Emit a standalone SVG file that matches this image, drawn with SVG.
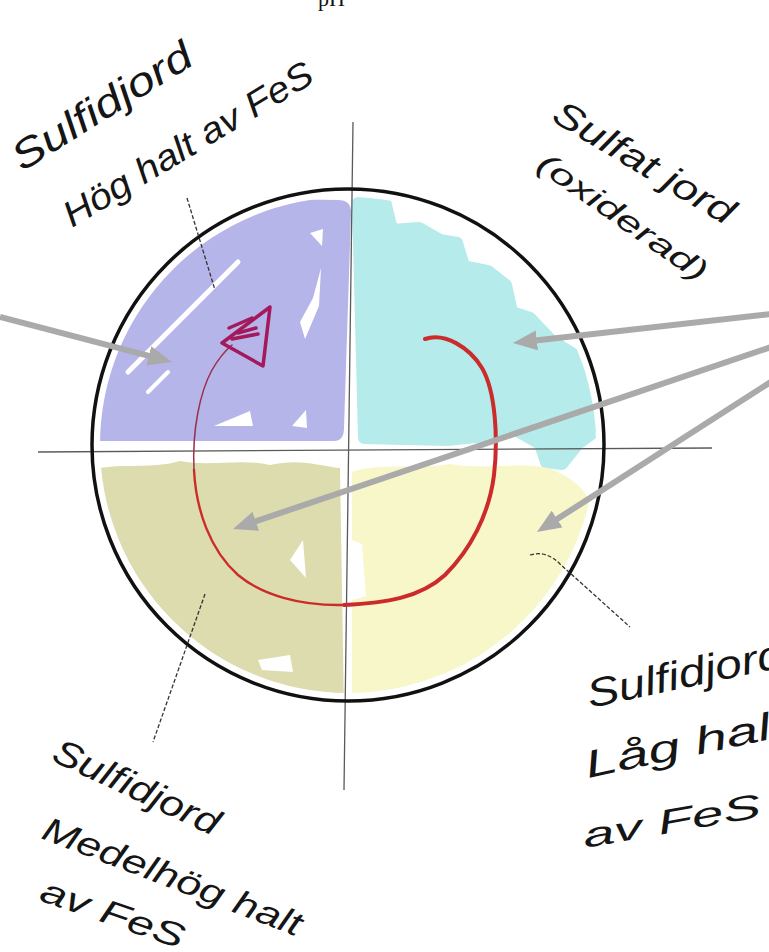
<svg xmlns="http://www.w3.org/2000/svg" width="769" height="952" viewBox="0 0 769 952">
<style>
.hand{font-family:"Liberation Sans","DejaVu Sans",sans-serif;font-style:italic;fill:#151515;}
.axis{stroke:#5a5a5a;stroke-width:1.3;fill:none;}
.leader{stroke:#333;stroke-width:1.3;fill:none;stroke-dasharray:4 2;}
.arrow{stroke:#aaaaaa;stroke-width:6;fill:none;marker-end:url(#ah);}
.gap{fill:#ffffff;stroke:none;}
</style>
<defs>
<marker id="ah" viewBox="0 0 24 20" markerWidth="24" markerHeight="20" refX="6" refY="10" orient="auto" markerUnits="userSpaceOnUse">
<path d="M0,0 L24,10 L0,20 Z" fill="#aaaaaa"/>
</marker>
<clipPath id="inner"><circle cx="348" cy="445" r="248"/></clipPath>
</defs>
<rect width="769" height="952" fill="#ffffff"/>
<text x="318" y="6" font-family="Liberation Serif,serif" font-size="22" fill="#111">pH</text>

<g id="fills" clip-path="url(#inner)">
<g id="q-purple">
<path d="M90,441 L334,441 Q344,441 344,428 L351,214 Q352,200 338,200 L90,196 Z" fill="#b6b5ea"/>
<path d="M128,372 L238,262" stroke="#fff" stroke-width="5" stroke-linecap="round"/>
<path d="M148,392 L168,372" stroke="#fff" stroke-width="4" stroke-linecap="round"/>
<polygon class="gap" points="321,268 313,298 300,322 305,339 319,306"/>
<polygon class="gap" points="310,233 323,229 322,246"/>
<polygon class="gap" points="214,426 250,411 253,426"/>
<polygon class="gap" points="292,426 306,410 307,428"/>
</g>
<g id="q-cyan">
<path d="M358,203 L385,201 L392,230 L419,228 L440,240 L457,243 L464,266 L488,271 L506,285 L512,312 L530,318 L551,340 L575,355 L595,376 L606,400 L600,428 L578,444 L562,464 L546,462 L540,444 L516,430 L495,435 L447,440 L364,438 Z" fill="#b5ebea" stroke="#b5ebea" stroke-width="12" stroke-linejoin="round"/>
</g>
<g id="q-olive">
<path d="M90,470 C120,462 150,470 180,461 C210,467 240,458 270,465 C300,458 320,466 340,468 L344,710 L90,710 Z" fill="#dcdcae"/>
<polygon class="gap" points="290,560 303,540 306,578"/>
<polygon class="gap" points="258,660 290,655 293,672 262,670"/>
</g>
<g id="q-yellow">
<path d="M352,472 C380,462 420,470 450,464 C490,470 520,462 548,468 C570,476 588,490 590,505 C594,525 584,548 572,562 L600,600 L600,710 L352,710 Z" fill="#f8f7c9"/>
<polygon class="gap" points="352,540 362,544 366,596 352,600"/>
</g>
</g>

<g id="axes">
<path class="axis" d="M353,122 L344,790"/>
<path class="axis" d="M38,452 L712,448"/>
</g>
<circle id="circle" cx="348" cy="445" r="256" fill="none" stroke="#111" stroke-width="3.5"/>

<g id="cycle">
<path d="M425,339 C445,332 470,348 482,368 C496,392 498,440 494,475 C489,515 470,550 445,575 C420,598 385,603 344,605" fill="none" stroke="#cc2b2b" stroke-width="4" stroke-linecap="round"/>
<path d="M344,605 C300,606 262,595 238,575 C210,550 196,510 194,470" fill="none" stroke="#cc2b2b" stroke-width="2.4" stroke-linecap="round"/>
<path d="M194,470 C192,430 200,392 212,370 C220,356 226,350 232,345" fill="none" stroke="#9a2f4a" stroke-width="1.5" stroke-linecap="round"/>
</g>
<g id="triangle" stroke="#a3195b" stroke-width="3.5" fill="none" stroke-linecap="round" stroke-linejoin="round">
<path d="M270,307 L222,343 L263,366 Z"/>
<path d="M229,328 L252,318"/>
<path d="M238,333 L256,328"/>
<path d="M232,339 L258,334"/>
</g>

<g id="connectors">
<path class="leader" d="M187,198 L215,290"/>
<path class="leader" d="M205,594 L153,742"/>
<path class="leader" d="M530,555 Q546,550 560,564 L630,627" stroke-dasharray="none"/>
<path class="arrow" d="M0,317 L154.6,357.4"/>
<path class="arrow" d="M780,313 L530.9,341"/>
<path class="arrow" d="M780,344 L250.1,523.2"/>
<path class="arrow" d="M780,376 L552.1,522.3"/>
</g>

<g id="label-top-left">
<text class="hand" font-size="40" transform="translate(22,172) rotate(-32)" textLength="205" lengthAdjust="spacingAndGlyphs">Sulfidjord</text>
<text class="hand" font-size="36" transform="translate(72,228) rotate(-31)" textLength="285" lengthAdjust="spacingAndGlyphs">Hög halt av FeS</text>
</g>
<g id="label-top-right">
<text class="hand" font-size="36" transform="translate(550,120) rotate(31)" textLength="205" lengthAdjust="spacingAndGlyphs">Sulfat jord</text>
<text class="hand" font-size="30" transform="translate(535,168) rotate(35)" textLength="200" lengthAdjust="spacingAndGlyphs">(oxiderad)</text>
</g>
<g id="label-bottom-left">
<text class="hand" font-size="36" transform="translate(50,760) rotate(25)" textLength="180" lengthAdjust="spacingAndGlyphs">Sulfidjord</text>
<text class="hand" font-size="34" transform="translate(40,838) rotate(21)" textLength="275" lengthAdjust="spacingAndGlyphs">Medelhög halt</text>
<text class="hand" font-size="34" transform="translate(38,900) rotate(19)" textLength="150" lengthAdjust="spacingAndGlyphs">av FeS</text>
</g>
<g id="label-bottom-right">
<text class="hand" font-size="40" transform="translate(590,708) rotate(-12)" textLength="200" lengthAdjust="spacingAndGlyphs">Sulfidjord</text>
<text class="hand" font-size="38" transform="translate(588,778) rotate(-12)" textLength="205" lengthAdjust="spacingAndGlyphs">Låg halt</text>
<text class="hand" font-size="34" transform="translate(585,848) rotate(-10)" textLength="180" lengthAdjust="spacingAndGlyphs">av FeS</text>
</g>
</svg>
